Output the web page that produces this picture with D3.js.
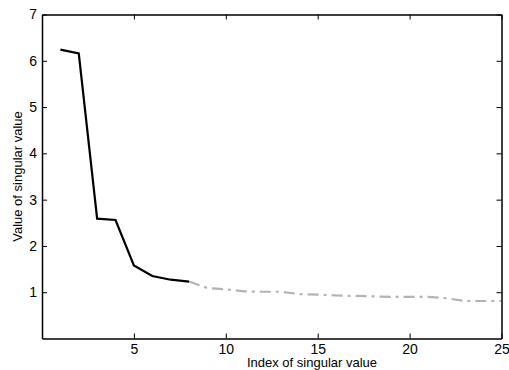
<!DOCTYPE html>
<html>
<head>
<meta charset="utf-8">
<script src="https://cdn.jsdelivr.net/npm/d3@7"></script>
<style>
  body { margin: 0; background: #fff; }
  text { font-family: "Liberation Sans", Arial, sans-serif; }
</style>
</head>
<body>
<svg id="chart" width="509" height="370"></svg>
<script>
const indices = [1,2,3,4,5,6,7,8,9,10,11,12,13,14,15,16,17,18,19,20,21,22,23,24,25];
const values = [6.24,6.16,2.59,2.56,1.58,1.35,1.27,1.23,1.09,1.06,1.02,1.01,1.01,0.96,0.95,0.93,0.92,0.91,0.90,0.90,0.90,0.87,0.81,0.81,0.81];
const splitIndex = 8;
const xTicks = [5,10,15,20,25];
const yTicks = [1,2,3,4,5,6,7];
const xLabel = "Index of singular value";
const yLabel = "Value of singular value";

const svg = d3.select("#chart");
const m = {left: 42, top: 14.5, right: 7.5, bottom: 31.5};
const W = 509, H = 370;
const x = d3.scaleLinear().domain([0,25]).range([m.left, W - m.right]);
const y = d3.scaleLinear().domain([0,7]).range([H - m.bottom, m.top]);

const data = indices.map((d,i) => ({i: d, v: values[i]}));
const line = d3.line().x(d => x(d.i)).y(d => y(d.v));

const g = svg.append("g");

// lines
g.append("path")
  .datum(data.filter(d => d.i >= splitIndex))
  .attr("d", line)
  .attr("fill", "none")
  .attr("stroke", "#b4b4b4")
  .attr("stroke-width", 2.2)
  .attr("stroke-dasharray", "11,5,3,5");
g.append("path")
  .datum(data.filter(d => d.i <= splitIndex))
  .attr("d", line)
  .attr("fill", "none")
  .attr("stroke", "#000")
  .attr("stroke-width", 2.2);

// axes
const tickLen = 5;
const fmt = d3.format("d");
const xB = g.append("g").attr("transform", `translate(0,${y(0)})`)
  .call(d3.axisBottom(x).tickValues(xTicks).tickFormat(fmt).tickSize(-tickLen).tickPadding(6).tickSizeOuter(0));
const xT = g.append("g").attr("transform", `translate(0,${y(7)})`)
  .call(d3.axisTop(x).tickValues(xTicks).tickSize(-tickLen).tickFormat("").tickSizeOuter(0));
const yL = g.append("g").attr("transform", `translate(${x(0)},0)`)
  .call(d3.axisLeft(y).tickValues(yTicks).tickFormat(fmt).tickSize(-tickLen).tickPadding(5).tickSizeOuter(0));
const yR = g.append("g").attr("transform", `translate(${x(25)},0)`)
  .call(d3.axisRight(y).tickValues(yTicks).tickSize(-tickLen).tickFormat("").tickSizeOuter(0));

[xB,xT,yL,yR].forEach(a => {
  a.select(".domain").attr("stroke", "#000").attr("stroke-width", 1.5);
  a.selectAll(".tick line").attr("stroke", "#000").attr("stroke-width", 1);
  a.selectAll(".tick text").attr("fill", "#000").style("font-size", "14px").style("font-family", "'Liberation Sans', Arial, sans-serif");
});

// labels
svg.append("text")
  .attr("x", 312).attr("y", 366.5)
  .attr("text-anchor", "middle")
  .style("font-size", "13px")
  .text(xLabel);
svg.append("text")
  .attr("transform", `translate(21.5,${y(3.5)}) rotate(-90)`)
  .attr("text-anchor", "middle")
  .style("font-size", "13px")
  .text(yLabel);
</script>
</body>
</html>
